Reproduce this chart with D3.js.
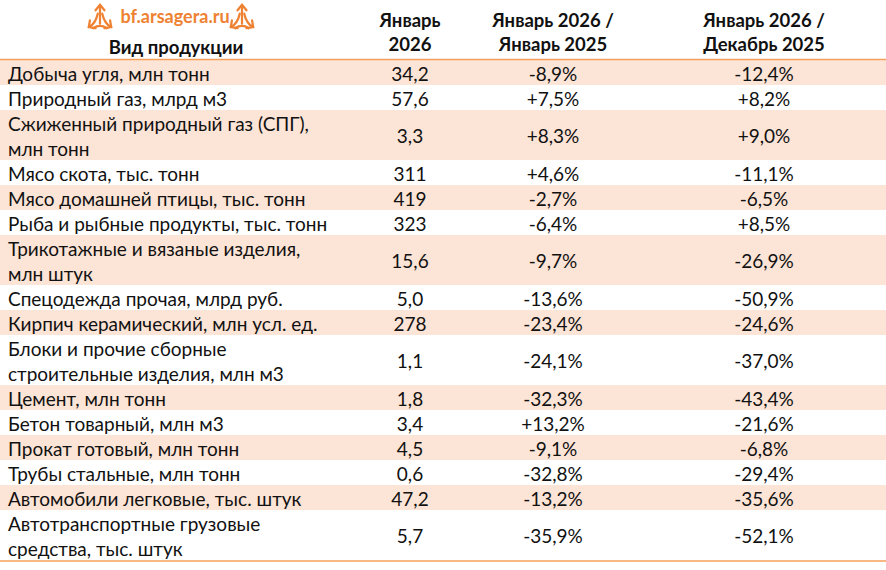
<!DOCTYPE html>
<html lang="ru">
<head>
  <meta charset="UTF-8">
  <title>Производство основных видов продукции</title>
  <style>
    body { margin: 0; background: #fff; }
    #table svg { display: block; }
    text { font-family: Lato, "Noto Sans", sans-serif; fill: #111; }
  </style>
</head>
<body>
  <div id="table"></div>

  <script src="https://d3js.org/d3.v7.min.js"></script>
  <script>
    // Данные таблицы
    const headers = [
      ["Вид продукции"],
      ["Январь", "2026"],
      ["Январь 2026 /", "Январь 2025"],
      ["Январь 2026 /", "Декабрь 2025"]
    ];

    const products = [
      ["Добыча угля, млн тонн"],
      ["Природный газ, млрд м3"],
      ["Сжиженный природный газ (СПГ),", "млн тонн"],
      ["Мясо скота, тыс. тонн"],
      ["Мясо домашней птицы, тыс. тонн"],
      ["Рыба и рыбные продукты, тыс. тонн"],
      ["Трикотажные и вязаные изделия,", "млн штук"],
      ["Спецодежда прочая, млрд руб."],
      ["Кирпич керамический, млн усл. ед."],
      ["Блоки и прочие сборные", "строительные изделия, млн м3"],
      ["Цемент, млн тонн"],
      ["Бетон товарный, млн м3"],
      ["Прокат готовый, млн тонн"],
      ["Трубы стальные, млн тонн"],
      ["Автомобили легковые, тыс. штук"],
      ["Автотранспортные грузовые", "средства, тыс. штук"]
    ];

    const jan2026 = ["34,2", "57,6", "3,3", "311", "419", "323", "15,6", "5,0",
                     "278", "1,1", "1,8", "3,4", "4,5", "0,6", "47,2", "5,7"];
    const yoy = ["-8,9%", "+7,5%", "+8,3%", "+4,6%", "-2,7%", "-6,4%", "-9,7%", "-13,6%",
                 "-23,4%", "-24,1%", "-32,3%", "+13,2%", "-9,1%", "-32,8%", "-13,2%", "-35,9%"];
    const mom = ["-12,4%", "+8,2%", "+9,0%", "-11,1%", "-6,5%", "+8,5%", "-26,9%", "-50,9%",
                 "-24,6%", "-37,0%", "-43,4%", "-21,6%", "-6,8%", "-29,4%", "-35,6%", "-52,1%"];

    const W = 886, H = 570;
    const orange = "#F5A05A";
    const shade = "#FCE4D6";
    const fs = 19;

    const svg = d3.select("#table").append("svg")
      .attr("width", W).attr("height", H);

    // строки разной высоты: единица = одна строка текста
    const units = products.map(p => p.length);
    const starts = d3.cumsum([0].concat(units));
    const y = d3.scaleLinear().domain([0, d3.sum(units)]).range([60, 560]);

    // центры столбцов значений
    const colX = [410, 553, 764];

    const rows = products.map((p, i) => ({
      lines: p, vals: [jan2026[i], yoy[i], mom[i]],
      y0: y(starts[i]), y1: y(starts[i + 1])
    }));

    // фон строк
    svg.selectAll("rect.row")
      .data(rows)
      .join("rect")
      .attr("class", "row")
      .attr("x", 0).attr("width", W)
      .attr("y", d => d.y0)
      .attr("height", d => d.y1 - d.y0)
      .attr("fill", (d, i) => i % 2 === 0 ? shade : "#fff");

    // линии сверху и снизу
    svg.append("line")
      .attr("x1", 0).attr("x2", W)
      .attr("y1", y(0) - 0.5).attr("y2", y(0) - 0.5)
      .attr("stroke", orange).attr("stroke-width", 1.5);
    svg.append("line")
      .attr("x1", 0).attr("x2", W)
      .attr("y1", y(d3.sum(units)) + 1).attr("y2", y(d3.sum(units)) + 1)
      .attr("stroke", orange).attr("stroke-width", 1.5);

    const lineH = y(1) - y(0);

    // названия продукции и значения
    const g = svg.selectAll("g.r").data(rows).join("g").attr("class", "r");
    g.each(function(d) {
      const sel = d3.select(this);
      d.lines.forEach((ln, k) => {
        sel.append("text")
          .attr("x", 8)
          .attr("y", d.y0 + lineH * k + lineH / 2)
          .attr("dy", "0.44em")
          .attr("font-size", fs)
          .text(ln);
      });
      d.vals.forEach((v, k) => {
        sel.append("text")
          .attr("x", colX[k])
          .attr("y", (d.y0 + d.y1) / 2)
          .attr("dy", "0.44em")
          .attr("text-anchor", "middle")
          .attr("font-size", fs)
          .text(v);
      });
    });

    // шапка
    headers.forEach((h, k) => {
      h.forEach((ln, j) => {
        svg.append("text")
          .attr("x", k === 0 ? 176 : colX[k - 1])
          .attr("y", k === 0 ? 47 : 20 + j * 24)
          .attr("dy", "0.4em")
          .attr("text-anchor", "middle")
          .attr("font-size", 18.5)
          .attr("font-weight", "bold")
          .text(ln);
      });
    });

    // логотип
    const logoColor = "#EE8232";
    function logoIcon(cx, cy) {
      const ic = svg.append("g")
        .attr("transform", `translate(${cx},${cy}) scale(1.12)`)
        .attr("fill", "none")
        .attr("stroke", logoColor)
        .attr("stroke-width", 2)
        .attr("stroke-linecap", "round");
      ic.append("path").attr("d", "M0,-10 L0,6");
      ic.append("path").attr("d", "M-4,-6 L0,-11 L4,-6");
      ic.append("path").attr("d", "M-2,-3 Q-4,6 -10,9");
      ic.append("path").attr("d", "M2,-3 Q4,6 10,9");
      ic.append("path").attr("d", "M-9,3 L-10,9 L-4,10");
      ic.append("path").attr("d", "M9,3 L10,9 L4,10");
      ic.append("path").attr("d", "M-6,10 Q0,6 6,10");
    }
    logoIcon(100, 17);
    logoIcon(242, 17);
    svg.append("text")
      .attr("x", 175).attr("y", 17)
      .attr("dy", "0.36em")
      .attr("text-anchor", "middle")
      .attr("font-family", "'Liberation Sans', Arial, sans-serif")
      .attr("font-weight", "bold")
      .attr("font-size", 18)
      .style("fill", logoColor)
      .text("bf.arsagera.ru");
  </script>
</body>
</html>
